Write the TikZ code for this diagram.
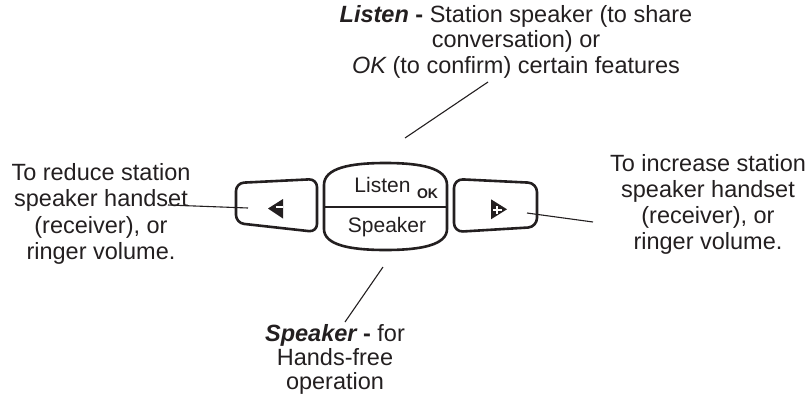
\documentclass[tikz,border=0pt]{standalone}
\usepackage{fontspec}
\setmainfont{Liberation Sans}
\usepackage{xcolor}
\definecolor{ink}{HTML}{231F20}

\begin{document}
\begin{tikzpicture}[x=1pt,y=-1pt]
    \useasboundingbox (0,0) rectangle (812,394);

    % the three keys
    \begin{scope}[draw=ink, line width=2.6pt, line join=round]
        \draw [rounded corners=8] (236,183) -- (317,179) -- (317,232) -- (236,223) -- cycle;
        \draw [rounded corners=9] (454,179) -- (537,183) -- (537,227) -- (454,232) -- cycle;
        \draw (324,207) -- (324,185) .. controls (324,168) and (350,163) .. (385.5,163)
              .. controls (421,163) and (447,168) .. (447,185) -- (447,229)
              .. controls (447,245) and (421,250) .. (385.5,250)
              .. controls (350,250) and (324,245) .. (324,229) -- cycle;
        \draw [line width=2.2pt] (324,207) -- (447,207);
    \end{scope}

    % volume arrows
    \fill [ink] (268,208.5) -- (283,199) -- (283,218.5) -- cycle;
    \draw [white, line width=2pt] (276,207) -- (283,207);
    \fill [ink] (491,199.3) -- (507,209.3) -- (491,219.3) -- cycle;
    \draw [white, line width=1.6pt] (493,210) -- (501.5,210) (497,206) -- (497,214);

    \begin{scope}[every node/.style={anchor=base, inner sep=0, text=ink}]
        \node [font=\fontsize{21}{24}\selectfont] (listen) at (382.5,192) {Listen};
        \node [font=\fontsize{14}{16}\selectfont\bfseries] (ok) at (427.5,198) {OK};
        \node [font=\fontsize{21}{24}\selectfont] (speaker) at (387,232) {Speaker};
    \end{scope}

    % callout texts (base = last line)
    \begin{scope}[every node/.style={align=center, anchor=base, inner sep=0, text=ink}]
        \node [font=\fontsize{23.5}{25.5}\selectfont] (listentxt) at (516,73)
            {{\bfseries\itshape Listen} {\bfseries -} Station speaker (to share\\
             conversation) or\\
             {\itshape OK} (to confirm) certain features};
        \node [font=\fontsize{23.5}{26.5}\selectfont] (reducetxt) at (101,259.5)
            {To reduce station\\ speaker handset\\ (receiver), or\\ ringer volume.};
        \node [font=\fontsize{23.5}{26}\selectfont] (increasetxt) at (708,249)
            {To increase station\\ speaker handset\\ (receiver), or\\ ringer volume.};
        \node [font=\fontsize{23.5}{24}\selectfont] (speakertxt) at (335,389)
            {{\bfseries\itshape Speaker} {\bfseries -} for\\ Hands-free\\ operation};
    \end{scope}

    % leader lines
    \coordinate (top0) at (488,82);
    \coordinate (top1) at (405,138);
    \coordinate (left0) at (168,205);
    \coordinate (left1) at (248,208);
    \coordinate (right0) at (593,222);
    \coordinate (right1) at (527,213);
    \coordinate (bot0) at (345,322);
    \coordinate (bot1) at (383,267);

    \begin{scope}[every edge/.style={draw=ink, line width=1.1pt}]
        \path (top0) edge (top1);
        \path (left0) edge (left1);
        \path (right0) edge (right1);
        \path (bot0) edge (bot1);
    \end{scope}

\end{tikzpicture}
\end{document}
